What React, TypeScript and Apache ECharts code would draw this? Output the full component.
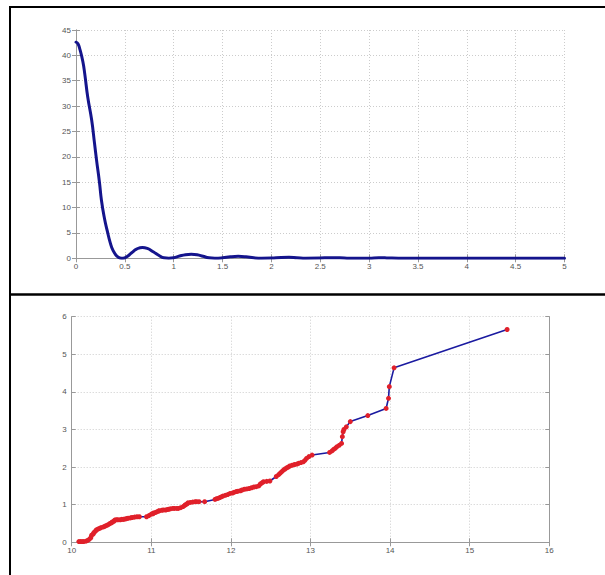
import React, { useEffect, useRef } from "react";
import * as echarts from "echarts";

// Top panel: decaying oscillating curve (x, y)
const topX = [0, 0.02, 0.04, 0.07, 0.09, 0.12, 0.16, 0.19, 0.21, 0.24, 0.26, 0.29, 0.32, 0.35, 0.38, 0.42, 0.45, 0.48, 0.52, 0.57, 0.62, 0.68, 0.73, 0.79, 0.85, 0.9, 0.95, 1.0, 1.06, 1.12, 1.18, 1.24, 1.3, 1.36, 1.42, 1.5, 1.58, 1.66, 1.74, 1.82, 1.9, 2.0, 2.1, 2.18, 2.26, 2.35, 2.5, 2.6, 2.7, 2.8, 3.0, 3.1, 3.18, 3.3, 4.0, 5.0];
const topY = [42.6, 42.3, 41.2, 38.8, 36.3, 31.8, 27.3, 22.6, 19.4, 15, 11.5, 8, 5.4, 3.1, 1.5, 0.4, 0.05, 0, 0.3, 1.1, 1.8, 2.15, 1.95, 1.3, 0.55, 0.1, 0.02, 0.1, 0.45, 0.72, 0.8, 0.7, 0.4, 0.1, 0.02, 0.1, 0.3, 0.38, 0.3, 0.1, 0.02, 0.05, 0.18, 0.2, 0.12, 0.02, 0.05, 0.12, 0.1, 0.02, 0.02, 0.1, 0.08, 0.02, 0.02, 0.02];

// Bottom panel: step-like cumulative curve with markers (x, y)
const botX = [10.09, 10.11, 10.13, 10.15, 10.18, 10.2, 10.22, 10.24, 10.25, 10.27, 10.28, 10.3, 10.31, 10.33, 10.35, 10.37, 10.4, 10.42, 10.44, 10.46, 10.48, 10.5, 10.51, 10.53, 10.54, 10.56, 10.58, 10.61, 10.63, 10.65, 10.67, 10.69, 10.71, 10.74, 10.76, 10.79, 10.82, 10.85, 10.94, 10.97, 11.0, 11.02, 11.03, 11.05, 11.07, 11.09, 11.1, 11.13, 11.15, 11.18, 11.2, 11.22, 11.24, 11.27, 11.29, 11.32, 11.34, 11.37, 11.4, 11.42, 11.43, 11.45, 11.46, 11.49, 11.52, 11.55, 11.57, 11.6, 11.67, 11.8, 11.82, 11.84, 11.86, 11.88, 11.9, 11.93, 11.96, 11.99, 12.02, 12.04, 12.07, 12.09, 12.12, 12.14, 12.17, 12.2, 12.23, 12.26, 12.29, 12.32, 12.35, 12.37, 12.39, 12.41, 12.45, 12.49, 12.57, 12.6, 12.62, 12.64, 12.66, 12.68, 12.7, 12.72, 12.74, 12.77, 12.8, 12.83, 12.85, 12.88, 12.91, 12.93, 12.95, 12.98, 13.02, 13.24, 13.27, 13.29, 13.31, 13.33, 13.36, 13.39, 13.4, 13.41, 13.42, 13.45, 13.5, 13.72, 13.95, 13.98, 13.99, 14.05, 15.47];
const botY = [0.02, 0.02, 0.02, 0.02, 0.03, 0.05, 0.08, 0.12, 0.19, 0.22, 0.26, 0.3, 0.33, 0.35, 0.37, 0.39, 0.41, 0.43, 0.45, 0.47, 0.5, 0.52, 0.54, 0.56, 0.59, 0.6, 0.6, 0.6, 0.61, 0.61, 0.62, 0.63, 0.64, 0.65, 0.66, 0.67, 0.68, 0.68, 0.68, 0.71, 0.75, 0.76, 0.78, 0.79, 0.81, 0.83, 0.84, 0.85, 0.86, 0.86, 0.87, 0.88, 0.89, 0.9, 0.9, 0.9, 0.9, 0.92, 0.95, 0.98, 1.0, 1.02, 1.05, 1.06, 1.07, 1.08, 1.08, 1.08, 1.08, 1.14, 1.16, 1.17, 1.19, 1.21, 1.23, 1.25, 1.27, 1.3, 1.31, 1.33, 1.35, 1.36, 1.37, 1.39, 1.41, 1.42, 1.43, 1.45, 1.47, 1.48, 1.5, 1.55, 1.58, 1.61, 1.62, 1.63, 1.75, 1.8, 1.84, 1.88, 1.92, 1.95, 1.98, 2.0, 2.03, 2.05, 2.07, 2.08, 2.1, 2.12, 2.14, 2.18, 2.23, 2.28, 2.32, 2.39, 2.43, 2.47, 2.5, 2.54, 2.58, 2.63, 2.81, 2.94, 3.0, 3.07, 3.21, 3.37, 3.56, 3.83, 4.14, 4.64, 5.66];

const topXTicks = [0, 5, 0.5];
const topYTicks = [0, 45, 5];
const botXTicks = [10, 16, 1];
const botYTicks = [0, 6, 1];

const labelStyle = { color: "#555", fontSize: 8, fontFamily: "Arial, 'Liberation Sans', sans-serif" };
const splitLine = { show: true, lineStyle: { color: "#cccccc", type: [1, 2] as any, width: 1 } };

function mkAxis(kind: "x" | "y", gridIndex: number, t: number[], primary: boolean) {
  const a: any = {
    type: "value",
    gridIndex,
    min: t[0],
    max: t[1],
    interval: t[2],
    position: kind === "x" ? (primary ? "bottom" : "top") : primary ? "left" : "right",
    axisLine: { show: true, lineStyle: { color: "#999", width: 1 } },
    axisTick: { show: true, inside: true, length: 4, lineStyle: { color: "#999" } },
    axisLabel: primary
      ? { show: true, ...labelStyle, margin: kind === "x" ? 4 : 5, showMinLabel: true, showMaxLabel: true }
      : { show: false },
    splitLine: primary ? splitLine : { show: false },
  };
  return a;
}

export default function App() {
  const ref = useRef<HTMLDivElement>(null);
  useEffect(() => {
    if (!ref.current) return;
    const chart = echarts.init(ref.current, null, { renderer: "svg" });
    chart.setOption({
      animation: false,
      backgroundColor: "#fff",
      grid: [
        { left: 76, top: 30, width: 488.5, height: 228.3, show: false },
        { left: 71.7, top: 316.7, width: 477.6, height: 225.6, show: false },
      ],
      xAxis: [
        mkAxis("x", 0, topXTicks, true),
        mkAxis("x", 0, topXTicks, false),
        mkAxis("x", 1, botXTicks, true),
        mkAxis("x", 1, botXTicks, false),
      ],
      yAxis: [
        mkAxis("y", 0, topYTicks, true),
        mkAxis("y", 0, topYTicks, false),
        mkAxis("y", 1, botYTicks, true),
        mkAxis("y", 1, botYTicks, false),
      ],
      series: [
        {
          type: "line",
          xAxisIndex: 0,
          yAxisIndex: 0,
          data: topX.map((x, i) => [x, topY[i]]),
          showSymbol: false,
          smooth: 0.5,
          lineStyle: { color: "#14148c", width: 3, join: "round", cap: "round" },
          clip: true,
        },
        {
          type: "line",
          xAxisIndex: 2,
          yAxisIndex: 2,
          data: botX.map((x, i) => [x, botY[i]]),
          symbol: "circle",
          symbolSize: 5,
          showSymbol: true,
          showAllSymbol: true,
          lineStyle: { color: "#1a1aa0", width: 1.6 },
          itemStyle: { color: "#e0202a", borderWidth: 0 },
        },
      ],
      graphic: [
        { type: "line", shape: { x1: 9, y1: 7, x2: 605, y2: 7 }, style: { stroke: "#000", lineWidth: 2 } },
        { type: "line", shape: { x1: 10, y1: 6, x2: 10, y2: 575 }, style: { stroke: "#000", lineWidth: 2 } },
        { type: "line", shape: { x1: 9, y1: 294.5, x2: 605, y2: 294.5 }, style: { stroke: "#000", lineWidth: 2.5 } },
      ],
    });
    return () => chart.dispose();
  }, []);
  return (
    <div
      ref={ref}
      style={{ position: "fixed", left: 0, top: 0, width: 605, height: 575, background: "#fff" }}
    />
  );
}
